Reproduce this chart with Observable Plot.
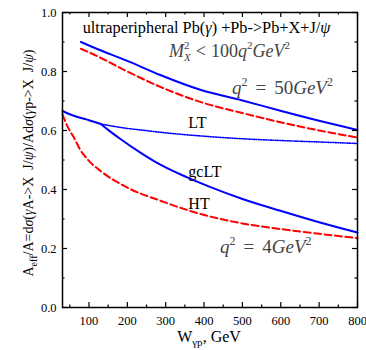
<!DOCTYPE html>
<html><head><meta charset="utf-8">
<script src="https://cdn.jsdelivr.net/npm/d3@7"></script>
<script src="https://cdn.jsdelivr.net/npm/@observablehq/plot@0.6"></script>
<style>body{margin:0;background:#fff}svg{display:block}</style>
</head><body><div id="chart"></div>
<script>
// ---- data ----
const xMajor = [100, 200, 300, 400, 500, 600, 700, 800];
const xMinor = [50, 150, 250, 350, 450, 550, 650, 750];
const yMajor = [0, 0.2, 0.4, 0.6, 0.8, 1.0];
const yMinor = [0.1, 0.3, 0.5, 0.7, 0.9];

// q^2 = 50 GeV^2
const wHigh      = [79, 120, 155, 200, 286, 390, 500, 599, 700, 800];
const ltHigh     = [0.900, 0.877, 0.859, 0.836, 0.788, 0.738, 0.702, 0.667, 0.633, 0.602];
const wHighHT    = [79, 120, 155, 200, 286, 390, 500, 599, 700, 800];
const htHigh     = [0.877, 0.853, 0.830, 0.800, 0.748, 0.697, 0.659, 0.628, 0.600, 0.576];

// q^2 = 4 GeV^2
const wLowLT     = [31, 50, 77, 100, 131];
const lowLT      = [0.666, 0.655, 0.643, 0.635, 0.622];
const wGcLT      = [131, 150, 182, 234, 286, 356, 417, 500, 599, 700, 800];
const gcLT       = [0.622, 0.602, 0.571, 0.525, 0.484, 0.441, 0.408, 0.368, 0.328, 0.289, 0.254];
const wLowDot    = [131, 200, 234, 286, 417, 500, 600, 700, 800];
const lowDot     = [0.622, 0.607, 0.602, 0.594, 0.579, 0.572, 0.566, 0.561, 0.556];
const wLowHT     = [31, 40, 51, 60, 77, 100, 130, 199, 286, 391, 500, 599, 700, 800];
const lowHT      = [0.655, 0.625, 0.597, 0.578, 0.535, 0.497, 0.463, 0.407, 0.362, 0.317, 0.285, 0.266, 0.250, 0.235];

const curveLabels = ["LT", "gcLT", "HT"];

const pts = (ws, vs) => ws.map((w, i) => ({w, v: vs[i]}));

const blue = "#0000ff", red = "#ff0000";
const font = "'Liberation Serif', 'DejaVu Serif', serif";
const plotH = 350 - 12 - 43, plotW = 366 - 62 - 9;

const plot = Plot.plot({
  width: 366, height: 350,
  marginLeft: 62, marginRight: 9, marginTop: 12, marginBottom: 43,
  x: {domain: [31, 800]},
  y: {domain: [0, 1]},
  style: {fontFamily: font, background: "white", color: "black"},
  marks: [
    Plot.line(pts(wHigh, ltHigh), {x: "w", y: "v", stroke: blue, strokeWidth: 2, curve: "monotone-x"}),
    Plot.line(pts(wHighHT, htHigh), {x: "w", y: "v", stroke: red, strokeWidth: 2, strokeDasharray: "7,3.5", curve: "monotone-x"}),
    Plot.line(pts(wLowDot, lowDot), {x: "w", y: "v", stroke: blue, strokeWidth: 1.6, strokeDasharray: "1,1.4", curve: "monotone-x"}),
    Plot.line(pts(wLowLT, lowLT), {x: "w", y: "v", stroke: blue, strokeWidth: 2, curve: "monotone-x"}),
    Plot.line(pts(wGcLT, gcLT), {x: "w", y: "v", stroke: blue, strokeWidth: 2, curve: "monotone-x"}),
    Plot.line(pts(wLowHT, lowHT), {x: "w", y: "v", stroke: red, strokeWidth: 2, strokeDasharray: "7,3.5", curve: "monotone-x"}),
    // tick labels
    Plot.axisX(xMajor, {anchor: "bottom", tickSize: 0, tickPadding: 9, fontSize: 12.5, fontFamily: font, label: null, tickFormat: d => String(d)}),
    Plot.axisY(yMajor, {anchor: "left", tickSize: 0, tickPadding: 6, fontSize: 12.5, fontFamily: font, label: null, tickFormat: d => d.toFixed(1)}),
    // inward ticks on all four sides
    Plot.tickX(xMajor, {x: d => d, insetTop: plotH - 5, stroke: "black", strokeWidth: 1.2}),
    Plot.tickX(xMinor, {x: d => d, insetTop: plotH - 2.5, stroke: "black", strokeWidth: 1.2}),
    Plot.tickX(xMajor, {x: d => d, insetBottom: plotH - 5, stroke: "black", strokeWidth: 1.2}),
    Plot.tickX(xMinor, {x: d => d, insetBottom: plotH - 2.5, stroke: "black", strokeWidth: 1.2}),
    Plot.tickY(yMajor, {y: d => d, insetRight: plotW - 5, stroke: "black", strokeWidth: 1.2}),
    Plot.tickY(yMinor, {y: d => d, insetRight: plotW - 2.5, stroke: "black", strokeWidth: 1.2}),
    Plot.tickY(yMajor, {y: d => d, insetLeft: plotW - 5, stroke: "black", strokeWidth: 1.2}),
    Plot.tickY(yMinor, {y: d => d, insetLeft: plotW - 2.5, stroke: "black", strokeWidth: 1.2}),
    Plot.frame({stroke: "black", strokeWidth: 1.5}),
    Plot.text(curveLabels, {x: [359, 359, 359], y: [0.608, 0.443, 0.334], text: d => d, textAnchor: "start", lineAnchor: "bottom", fontSize: 16, fontFamily: font, fill: "black"})
  ]
});

document.getElementById("chart").appendChild(plot);

// ---- rich-text annotations (sub/superscripts, italics) ----
const sx = plot.scale("x"), sy = plot.scale("y");
const svg = d3.select(plot);
function rich(x, y, parts, opts = {}) {
  const t = svg.append("text")
    .attr("x", x).attr("y", y)
    .attr("font-family", font)
    .attr("font-size", opts.size || 15)
    .attr("fill", opts.fill || "black")
    .attr("text-anchor", opts.anchor || "start");
  if (opts.rotate) t.attr("transform", `rotate(-90 ${x} ${y})`);
  for (const p of parts) {
    const s = t.append("tspan").text(p.t);
    if (p.i) s.attr("font-style", "italic");
    if (p.s) s.attr("font-size", p.s);
    if (p.dx != null) s.attr("dx", p.dx);
    if (p.dy != null) s.attr("dy", p.dy);
  }
  return t;
}

// title
rich(sx.apply(85), sy.apply(0.928), [
  {t: "ultraperipheral Pb("}, {t: "γ", i: 1}, {t: ") +Pb->Pb+X+J/"}, {t: "ψ", i: 1}
], {size: 16.3});

// M_X^2 < 100 q^2 GeV^2
rich(sx.apply(310), sy.apply(0.846), [
  {t: "M", i: 1}, {t: "2", s: 11, dy: -8}, {t: "X", i: 1, s: 11, dx: -5.5, dy: 12},
  {t: "<", dx: 5, dy: -4}, {t: "100", dx: 5}, {t: "q", i: 1}, {t: "2", s: 11, dy: -8}, {t: "GeV", i: 1, dy: 8}, {t: "2", s: 11, dy: -8}
], {size: 18, fill: "#444"});

// q^2 = 50 GeV^2
rich(sx.apply(474), sy.apply(0.723), [
  {t: "q", i: 1}, {t: "2", s: 12, dy: -8}, {t: "=", dx: 8, dy: 8}, {t: "50", dx: 8}, {t: "GeV", i: 1}, {t: "2", s: 12, dy: -8}
], {size: 19, fill: "#444"});

// q^2 = 4 GeV^2
rich(sx.apply(443), sy.apply(0.182), [
  {t: "q", i: 1}, {t: "2", s: 12, dy: -8}, {t: "=", dx: 8, dy: 8}, {t: "4", dx: 8}, {t: "GeV", i: 1}, {t: "2", s: 12, dy: -8}
], {size: 19, fill: "#444"});

// x label
rich(209, 342, [
  {t: "W"}, {t: "γp", s: 11, dy: 4}, {t: ", GeV", dy: -4}
], {size: 16, anchor: "middle"});

// y label (rotated)
rich(33, 163, [
  {t: "A"}, {t: "eff", s: 10, dy: 4}, {t: "/A=d", dy: -4}, {t: "σ", i: 1}, {t: "("}, {t: "γ", i: 1},
  {t: "A->X  J/"}, {t: "ψ", i: 1}, {t: ")/Ad"}, {t: "σ", i: 1}, {t: "("}, {t: "γ", i: 1},
  {t: "p->X  J/"}, {t: "ψ", i: 1}, {t: ")"}
], {size: 14, rotate: true, anchor: "middle"});
</script>
</body></html>
